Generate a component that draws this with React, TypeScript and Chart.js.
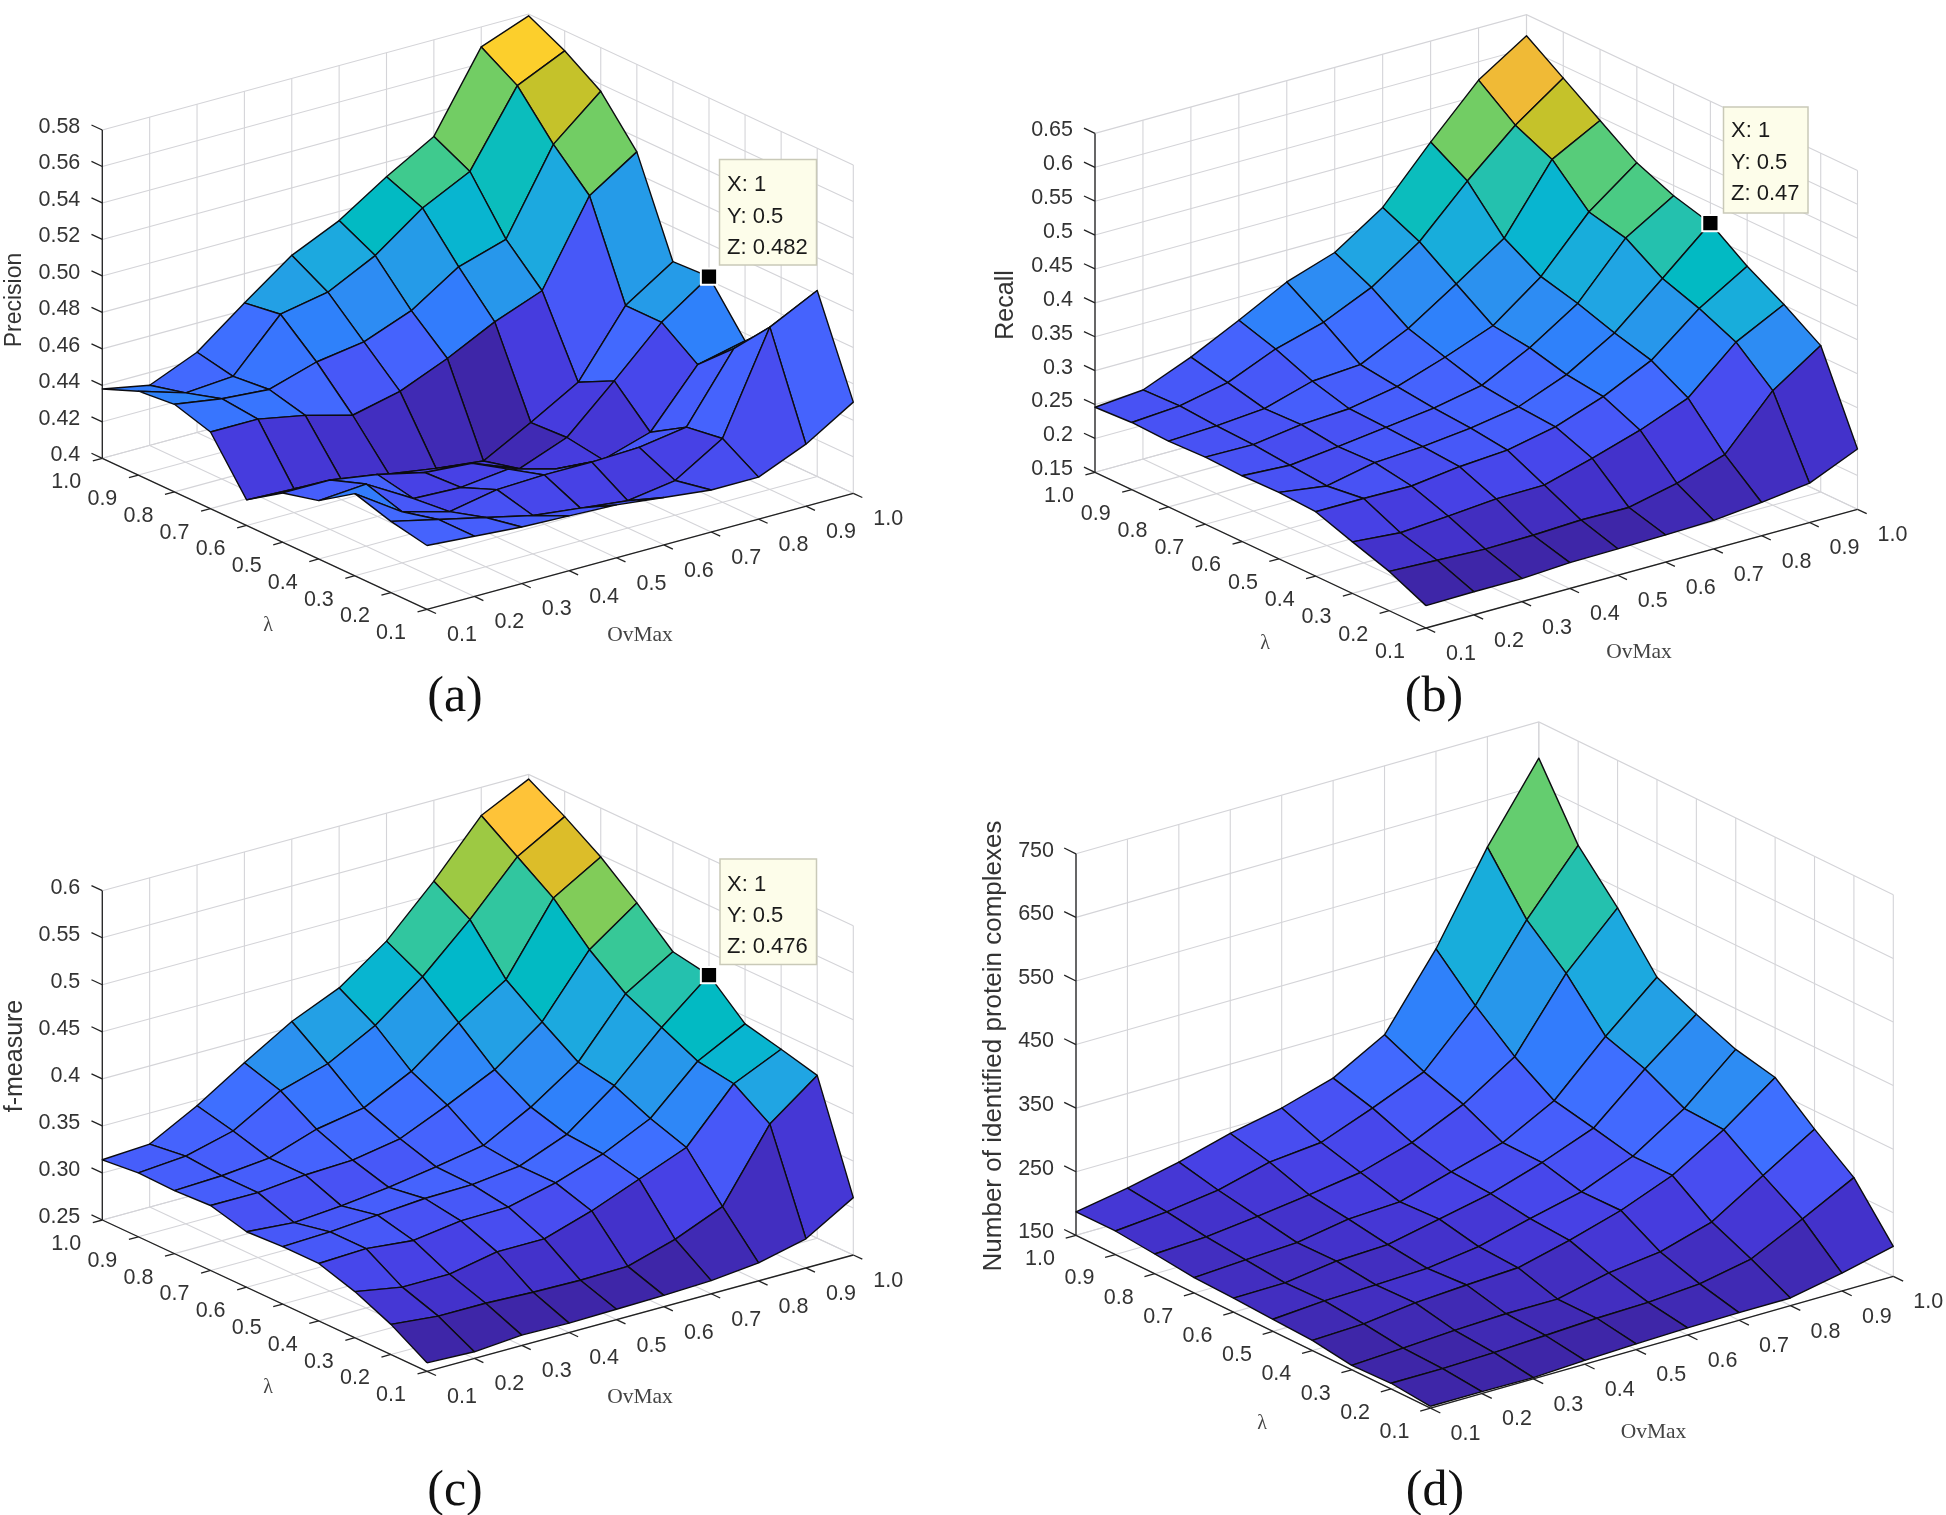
import React, { useEffect, useRef } from "react";
import { Chart, registerables } from "chart.js";

Chart.register(...registerables);

// ---- shared axes ----
const ovMaxValues = [0.1, 0.2, 0.3, 0.4, 0.5, 0.6, 0.7, 0.8, 0.9, 1.0];
const lambdaValues = [0.1, 0.2, 0.3, 0.4, 0.5, 0.6, 0.7, 0.8, 0.9, 1.0];
const gridTickLabels = ["0.1", "0.2", "0.3", "0.4", "0.5", "0.6", "0.7", "0.8", "0.9", "1.0"];

// ---- surface values: one row per lambda (0.1 .. 1.0), one column per OvMax (0.1 .. 1.0) ----
const precision = [
  [0.435, 0.433, 0.431, 0.43, 0.429, 0.426, 0.423, 0.423, 0.434, 0.45],
  [0.439, 0.433, 0.427, 0.421, 0.418, 0.415, 0.419, 0.435, 0.489, 0.502],
  [0.445, 0.428, 0.421, 0.426, 0.427, 0.427, 0.428, 0.432, 0.468, 0.474],
  [0.432, 0.434, 0.419, 0.418, 0.421, 0.414, 0.412, 0.42, 0.45, 0.456],
  [0.427, 0.427, 0.423, 0.417, 0.415, 0.405, 0.415, 0.439, 0.464, 0.482],
  [0.414, 0.413, 0.411, 0.407, 0.403, 0.4, 0.414, 0.429, 0.464, 0.481],
  [0.442, 0.442, 0.437, 0.43, 0.436, 0.447, 0.46, 0.47, 0.515, 0.532],
  [0.448, 0.444, 0.442, 0.45, 0.454, 0.464, 0.481, 0.489, 0.534, 0.556],
  [0.446, 0.438, 0.44, 0.467, 0.472, 0.485, 0.504, 0.517, 0.557, 0.569],
  [0.438, 0.433, 0.444, 0.464, 0.483, 0.495, 0.512, 0.527, 0.569, 0.579],
];
const recall = [
  [0.183, 0.184, 0.184, 0.188, 0.189, 0.19, 0.192, 0.199, 0.208, 0.239],
  [0.208, 0.205, 0.202, 0.203, 0.206, 0.205, 0.221, 0.244, 0.319, 0.366],
  [0.226, 0.22, 0.225, 0.231, 0.232, 0.252, 0.274, 0.302, 0.365, 0.401],
  [0.245, 0.245, 0.244, 0.253, 0.258, 0.273, 0.298, 0.332, 0.389, 0.432],
  [0.248, 0.238, 0.253, 0.257, 0.265, 0.277, 0.305, 0.347, 0.408, 0.47],
  [0.247, 0.243, 0.251, 0.26, 0.269, 0.283, 0.319, 0.365, 0.442, 0.485],
  [0.249, 0.248, 0.258, 0.262, 0.275, 0.299, 0.326, 0.379, 0.455, 0.508],
  [0.247, 0.25, 0.256, 0.277, 0.282, 0.316, 0.362, 0.41, 0.507, 0.545],
  [0.249, 0.254, 0.269, 0.299, 0.319, 0.351, 0.399, 0.469, 0.532, 0.582],
  [0.246, 0.252, 0.281, 0.316, 0.353, 0.377, 0.424, 0.501, 0.573, 0.619],
];
const fMeasure = [
  [0.259, 0.257, 0.261, 0.26, 0.261, 0.262, 0.264, 0.269, 0.281, 0.311],
  [0.282, 0.277, 0.277, 0.275, 0.274, 0.275, 0.29, 0.311, 0.385, 0.423],
  [0.299, 0.29, 0.29, 0.3, 0.3, 0.316, 0.336, 0.356, 0.41, 0.433],
  [0.311, 0.313, 0.308, 0.315, 0.316, 0.328, 0.345, 0.369, 0.416, 0.442],
  [0.311, 0.313, 0.317, 0.321, 0.322, 0.328, 0.348, 0.386, 0.434, 0.476],
  [0.309, 0.305, 0.309, 0.315, 0.323, 0.332, 0.359, 0.393, 0.452, 0.483],
  [0.319, 0.319, 0.324, 0.326, 0.335, 0.357, 0.381, 0.418, 0.481, 0.517],
  [0.317, 0.319, 0.324, 0.341, 0.35, 0.375, 0.413, 0.445, 0.518, 0.548],
  [0.318, 0.322, 0.335, 0.364, 0.379, 0.406, 0.444, 0.491, 0.544, 0.573],
  [0.314, 0.317, 0.344, 0.376, 0.406, 0.428, 0.464, 0.514, 0.57, 0.595],
];
const complexes = [
  [153, 153, 152, 156, 159, 161, 162, 162, 178, 197],
  [159, 159, 161, 165, 169, 171, 177, 193, 233, 275],
  [157, 161, 166, 169, 169, 187, 197, 221, 271, 321],
  [166, 169, 179, 184, 188, 208, 232, 264, 313, 372],
  [169, 175, 177, 180, 191, 212, 231, 264, 316, 386],
  [172, 173, 184, 187, 204, 221, 247, 278, 348, 411],
  [174, 179, 183, 197, 201, 225, 248, 291, 369, 439],
  [181, 185, 194, 205, 217, 241, 278, 330, 438, 518],
  [187, 194, 205, 226, 234, 265, 299, 380, 492, 586],
  [187, 201, 219, 241, 258, 282, 327, 439, 576, 693],
];

// ---- vertical axis ticks ----
const precisionTicks = [0.4, 0.42, 0.44, 0.46, 0.48, 0.5, 0.52, 0.54, 0.56, 0.58];
const precisionTickLabels = ["0.4", "0.42", "0.44", "0.46", "0.48", "0.50", "0.52", "0.54", "0.56", "0.58"];
const recallTicks = [0.15, 0.2, 0.25, 0.3, 0.35, 0.4, 0.45, 0.5, 0.55, 0.6, 0.65];
const recallTickLabels = ["0.15", "0.2", "0.25", "0.3", "0.35", "0.4", "0.45", "0.5", "0.55", "0.6", "0.65"];
const fMeasureTicks = [0.25, 0.3, 0.35, 0.4, 0.45, 0.5, 0.55, 0.6];
const fMeasureTickLabels = ["0.25", "0.30", "0.35", "0.4", "0.45", "0.5", "0.55", "0.6"];
const complexesTicks = [150, 250, 350, 450, 550, 650, 750];
const complexesTickLabels = ["150", "250", "350", "450", "550", "650", "750"];

// MATLAB parula colormap, 64 levels
const parula = [
  [.2422,.1504,.6603],[.2504,.165,.7076],[.2578,.1818,.7511],[.2647,.1978,.7952],[.2706,.2147,.8364],[.2751,.2342,.871],[.2783,.2559,.8991],[.2803,.2782,.9221],
  [.2813,.3006,.9414],[.281,.3228,.9579],[.2795,.3447,.9717],[.276,.3667,.9829],[.2699,.3892,.9906],[.2602,.4123,.9952],[.244,.4358,.9988],[.2206,.4603,.9973],
  [.1963,.4847,.9892],[.1834,.5074,.9798],[.1786,.5289,.9682],[.1764,.5499,.952],[.1687,.5703,.9359],[.154,.5902,.9218],[.146,.6091,.9079],[.138,.6276,.8973],
  [.1248,.6459,.8883],[.1113,.6635,.8763],[.0952,.6798,.8598],[.0689,.6948,.8394],[.0297,.7082,.8163],[.0036,.7203,.7917],[.0067,.7312,.766],[.0433,.7411,.7394],
  [.0964,.75,.712],[.1408,.7584,.6842],[.1717,.767,.6554],[.1938,.7758,.6251],[.2161,.7843,.5923],[.247,.7918,.5567],[.2906,.7973,.5188],[.3406,.8008,.4789],
  [.3909,.8029,.4354],[.4456,.8024,.3909],[.5044,.7993,.348],[.5616,.7942,.3045],[.6174,.7876,.2612],[.672,.7793,.2227],[.7242,.7698,.191],[.7738,.7598,.1646],
  [.8203,.7498,.1535],[.8634,.7406,.1596],[.9035,.733,.1774],[.9393,.7288,.21],[.9728,.7298,.2394],[.9956,.7434,.2371],[.997,.7659,.2199],[.9952,.7861,.1967],
  [.9892,.8114,.1726],[.9786,.836,.1494],[.9676,.8628,.131],[.961,.889,.1153],[.9597,.9135,.1032],[.9628,.9373,.089],[.9691,.9606,.0704],[.9769,.9839,.0805],
];

type Pt = { x: number; y: number };
type Panel = {
  box: { x: number; y: number; w: number; h: number };
  left: Pt; front: Pt; right: Pt; wallHeight: number;
  values: number[][]; zTicks: number[]; zLabels: string[];
  zTitle: string; zTitlePos: Pt; zTitleSize: number;
  lambdaPos: Pt; ovPos: Pt; caption: string; captionPos: Pt;
  tip?: { ov: number; lam: number; z: number; lines: string[]; rect: number[]; textX: number; textY: number[] };
};

const panels: Panel[] = [
  {
    box: { x: 0, y: 0, w: 973, h: 740 },
    left: { x: 102.3, y: 458.3 }, front: { x: 427, y: 609.3 }, right: { x: 853.3, y: 493.3 }, wallHeight: 328.3,
    values: precision, zTicks: precisionTicks, zLabels: precisionTickLabels,
    zTitle: "Precision", zTitlePos: { x: 15, y: 300 }, zTitleSize: 23,
    lambdaPos: { x: 268, y: 626 }, ovPos: { x: 640, y: 635 }, caption: "(a)", captionPos: { x: 455, y: 697.5 },
    tip: { ov: 1, lam: 0.5, z: 0.482, lines: ["X: 1", "Y: 0.5", "Z: 0.482"], rect: [719.5, 159.5, 97, 105.5], textX: 727, textY: [185, 216.5, 247.5] },
  },
  {
    box: { x: 973, y: 0, w: 973, h: 740 },
    left: { x: 1095, y: 472.3 }, front: { x: 1426, y: 628 }, right: { x: 1857.5, y: 509.3 }, wallHeight: 338.9,
    values: recall, zTicks: recallTicks, zLabels: recallTickLabels,
    zTitle: "Recall", zTitlePos: { x: 1006, y: 305 }, zTitleSize: 25,
    lambdaPos: { x: 1265, y: 644 }, ovPos: { x: 1639, y: 652.5 }, caption: "(b)", captionPos: { x: 1434, y: 697.5 },
    tip: { ov: 1, lam: 0.5, z: 0.47, lines: ["X: 1", "Y: 0.5", "Z: 0.47"], rect: [1723.5, 107, 84.5, 106], textX: 1731, textY: [131, 162.5, 193.5] },
  },
  {
    box: { x: 0, y: 740, w: 973, h: 775 },
    left: { x: 102.3, y: 1220 }, front: { x: 427, y: 1371.3 }, right: { x: 853.3, y: 1255 }, wallHeight: 329.3,
    values: fMeasure, zTicks: fMeasureTicks, zLabels: fMeasureTickLabels,
    zTitle: "f-measure", zTitlePos: { x: 15, y: 1056 }, zTitleSize: 25,
    lambdaPos: { x: 268, y: 1388 }, ovPos: { x: 640, y: 1397 }, caption: "(c)", captionPos: { x: 455, y: 1491.5 },
    tip: { ov: 1, lam: 0.5, z: 0.476, lines: ["X: 1", "Y: 0.5", "Z: 0.476"], rect: [720, 859, 96.5, 105.5], textX: 727, textY: [885, 915.5, 946.5] },
  },
  {
    box: { x: 973, y: 700, w: 973, h: 815 },
    left: { x: 1076, y: 1235.3 }, front: { x: 1430.5, y: 1408.2 }, right: { x: 1893.3, y: 1276.3 }, wallHeight: 381.5,
    values: complexes, zTicks: complexesTicks, zLabels: complexesTickLabels,
    zTitle: "Number of identified protein complexes", zTitlePos: { x: 994, y: 1046 }, zTitleSize: 26,
    lambdaPos: { x: 1262, y: 1424 }, ovPos: { x: 1653.5, y: 1432.5 }, caption: "(d)", captionPos: { x: 1435, y: 1491.5 },
  },
];

const EDGE = "#0c0c10";
const AXIS = "#222222";
const GRID = "#d4d4d8";
const TEXT = "#333333";
const SANS = '"Liberation Sans", Arial, sans-serif';
const SERIF = '"Liberation Serif", "Times New Roman", serif';

function colorFor(z: number, min: number, max: number) {
  const t = (z - min) / (max - min);
  const c = parula[Math.max(0, Math.min(63, Math.floor(t * 64)))];
  return `rgb(${Math.round(c[0] * 255)},${Math.round(c[1] * 255)},${Math.round(c[2] * 255)})`;
}

function buildConfig(panel: Panel) {
  const zMin = panel.zTicks[0];
  const zMax = panel.zTicks[panel.zTicks.length - 1];
  const project = (ov: number, lam: number, z: number): Pt => {
    const u = (ov - 0.1) / 0.9;
    const v = (lam - 0.1) / 0.9;
    const { left: L, front: F, right: R } = panel;
    return {
      x: F.x + u * (R.x - F.x) + v * (L.x - F.x),
      y: F.y + u * (R.y - F.y) + v * (L.y - F.y) - ((z - zMin) / (zMax - zMin)) * panel.wallHeight,
    };
  };
  const datasets: any[] = [];
  const seg = (pts: Pt[], color: string, width: number, order: number) =>
    datasets.push({ data: pts, showLine: true, fill: false, borderColor: color, borderWidth: width, pointRadius: 0, order, clip: false });

  // walls and floor grid
  for (const ov of ovMaxValues) {
    seg([project(ov, 0.1, zMin), project(ov, 1, zMin)], GRID, 1.1, 5000);
    seg([project(ov, 1, zMin), project(ov, 1, zMax)], GRID, 1.1, 5000);
  }
  for (const lam of lambdaValues) {
    seg([project(0.1, lam, zMin), project(1, lam, zMin)], GRID, 1.1, 5000);
    seg([project(1, lam, zMin), project(1, lam, zMax)], GRID, 1.1, 5000);
  }
  for (const z of panel.zTicks) {
    seg([project(0.1, 1, z), project(1, 1, z), project(1, 0.1, z)], GRID, 1.1, 5000);
  }
  // axes and tick marks
  seg([project(0.1, 1, zMin), project(0.1, 1, zMax)], AXIS, 1.3, 4000);
  seg([project(0.1, 1, zMin), project(0.1, 0.1, zMin)], AXIS, 1.3, 4000);
  seg([project(0.1, 0.1, zMin), project(1, 0.1, zMin)], AXIS, 1.3, 4000);
  for (const z of panel.zTicks) seg([project(0.1, 1, z), project(0.1, 1.03, z)], AXIS, 1.3, 4000);
  for (const lam of lambdaValues) seg([project(0.1, lam, zMin), project(0.08, lam, zMin)], AXIS, 1.3, 4000);
  for (const ov of ovMaxValues) seg([project(ov, 0.1, zMin), project(ov, 0.075, zMin)], AXIS, 1.3, 4000);

  // surface faces; a face takes the colour of its lowest-index corner
  const flat = panel.values.flat();
  const min = Math.min(...flat);
  const max = Math.max(...flat);
  for (let q = 8; q >= 0; q--) {
    for (let p = 8; p >= 0; p--) {
      const corners = [[p, q], [p + 1, q], [p + 1, q + 1], [p, q + 1], [p, q]].map(([i, j]) =>
        project(ovMaxValues[i], lambdaValues[j], panel.values[j][i]),
      );
      datasets.push({
        data: corners, showLine: true, fill: "shape", tension: 0,
        backgroundColor: colorFor(panel.values[q][p], min, max),
        borderColor: EDGE, borderWidth: 1.4, borderJoinStyle: "round",
        pointRadius: 0, order: 100 + p * 10 + q, clip: false,
      });
    }
  }
  // data tip marker
  if (panel.tip) {
    datasets.push({
      data: [project(panel.tip.ov, panel.tip.lam, panel.tip.z)], showLine: false,
      pointStyle: "rect", pointRadius: 11.5, backgroundColor: "#000", borderColor: "#fff", borderWidth: 2, order: 1, clip: false,
    });
  }

  const textPlugin = {
    id: "surfaceText",
    afterDraw(chart: any) {
      const ctx = chart.ctx as CanvasRenderingContext2D;
      const sx = (v: number) => chart.scales.x.getPixelForValue(v);
      const sy = (v: number) => chart.scales.y.getPixelForValue(v);
      const text = (s: string, x: number, y: number, font: string, align: CanvasTextAlign, color = TEXT) => {
        ctx.font = font; ctx.textAlign = align; ctx.textBaseline = "middle"; ctx.fillStyle = color;
        ctx.fillText(s, sx(x), sy(y));
      };
      ctx.save();
      panel.zTicks.forEach((z, i) => {
        const a = project(0.1, 1, z);
        text(panel.zLabels[i], a.x - 22, a.y - 3, `21.5px ${SANS}`, "right");
      });
      lambdaValues.forEach((lam, i) => {
        const a = project(0.1, lam, zMin);
        text(gridTickLabels[i], a.x - 36, a.y + 24, `21.5px ${SANS}`, "center");
      });
      ovMaxValues.forEach((ov, i) => {
        const a = project(ov, 0.1, zMin);
        text(gridTickLabels[i], a.x + 35, a.y + 26, `21.5px ${SANS}`, "center");
      });
      text("λ", panel.lambdaPos.x, panel.lambdaPos.y, `20px ${SERIF}`, "center", "#444");
      text("OvMax", panel.ovPos.x, panel.ovPos.y, `21.5px ${SERIF}`, "center", "#444");
      text(panel.caption, panel.captionPos.x, panel.captionPos.y, `50px ${SERIF}`, "center", "#111");
      // vertical axis title
      ctx.save();
      ctx.translate(sx(panel.zTitlePos.x), sy(panel.zTitlePos.y));
      ctx.rotate(-Math.PI / 2);
      ctx.font = `${panel.zTitleSize}px ${SANS}`;
      ctx.textAlign = "center"; ctx.textBaseline = "middle"; ctx.fillStyle = TEXT;
      ctx.fillText(panel.zTitle, 0, 0);
      ctx.restore();
      // data tip box
      if (panel.tip) {
        const [rx, ry, rw, rh] = panel.tip.rect;
        ctx.fillStyle = "#fdfdea"; ctx.strokeStyle = "#c9c9b8"; ctx.lineWidth = 1.5;
        ctx.fillRect(sx(rx), sy(ry), rw, rh);
        ctx.strokeRect(sx(rx), sy(ry), rw, rh);
        panel.tip.lines.forEach((line, i) => text(line, panel.tip!.textX, panel.tip!.textY[i], `22px ${SANS}`, "left", "#1a1a1a"));
      }
      ctx.restore();
    },
  };

  return {
    type: "scatter" as const,
    data: { datasets },
    options: {
      animation: false as const,
      responsive: false,
      events: [] as any[],
      layout: { padding: 0, autoPadding: false },
      plugins: { legend: { display: false }, tooltip: { enabled: false }, title: { display: false } },
      scales: {
        x: { type: "linear" as const, display: false, min: panel.box.x, max: panel.box.x + panel.box.w },
        y: { type: "linear" as const, display: false, reverse: true, min: panel.box.y, max: panel.box.y + panel.box.h },
      },
    },
    plugins: [textPlugin],
  };
}

function SurfacePanel({ panel }: { panel: Panel }) {
  const ref = useRef<HTMLCanvasElement>(null);
  useEffect(() => {
    const chart = new Chart(ref.current as HTMLCanvasElement, buildConfig(panel) as any);
    return () => chart.destroy();
  }, [panel]);
  const { x, y, w, h } = panel.box;
  return (
    <canvas ref={ref} width={w} height={h} style={{ position: "absolute", left: x, top: y, width: w, height: h }} />
  );
}

export default function App() {
  return (
    <div style={{ position: "absolute", left: 0, top: 0, width: 1946, height: 1515, background: "#fff", overflow: "hidden" }}>
      {panels.map((p) => (
        <SurfacePanel key={p.caption} panel={p} />
      ))}
    </div>
  );
}
